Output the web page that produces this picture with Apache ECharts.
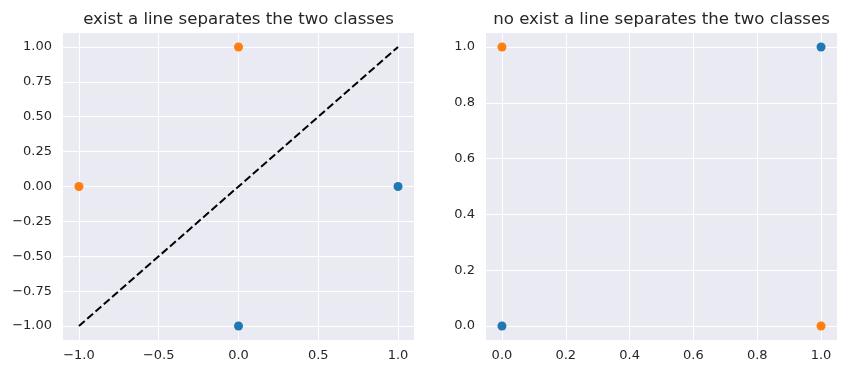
<!DOCTYPE html>
<html>
<head>
<meta charset="utf-8">
<script src="https://cdn.jsdelivr.net/npm/echarts@6/dist/echarts.min.js"></script>
<style>html,body{margin:0;padding:0;background:#fff}#c{width:847px;height:374px}</style>
</head>
<body>
<div id="c"></div>
<script>
const titles = ["exist a line separates the two classes", "no exist a line separates the two classes"];
const leftBlue = [[1, 0], [0, -1]];
const leftOrange = [[0, 1], [-1, 0]];
const leftLine = [[-1, -1], [1, 1]];
const rightBlue = [[0, 0], [1, 1]];
const rightOrange = [[0, 1], [1, 0]];
const leftXTicks = [-1.0, -0.5, 0.0, 0.5, 1.0];
const leftYTicks = [-1.0, -0.75, -0.5, -0.25, 0.0, 0.25, 0.5, 0.75, 1.0];
const rightXTicks = [0.0, 0.2, 0.4, 0.6, 0.8, 1.0];
const rightYTicks = [0.0, 0.2, 0.4, 0.6, 0.8, 1.0];

const FONT = "DejaVu Sans";
const TXT = "#262626";
function fmt(d) { return v => { const s = Math.abs(v).toFixed(d); return (v < -1e-9 ? "\u2212" : "") + s; }; }
function axis(gridIndex, min, max, ticks, dec, isX) {
  return {
    type: "value", gridIndex, min, max,
    axisLine: { show: false },
    axisTick: { show: false, customValues: ticks },
    axisLabel: { customValues: ticks, formatter: fmt(dec), color: TXT, fontFamily: FONT, fontSize: 13, margin: isX ? 9 : 11, showMinLabel: true, showMaxLabel: true },
    splitLine: { show: true, lineStyle: { color: "#ffffff", width: 1 } }
  };
}
const chart = echarts.init(document.getElementById("c"), null, { renderer: "canvas" });
chart.setOption({
  animation: false,
  backgroundColor: "#ffffff",
  title: [
    { text: titles[0], left: 233.5, textAlign: "center", top: 6, textStyle: { fontFamily: FONT, fontSize: 16.6, fontWeight: "normal", color: TXT } },
    { text: titles[1], left: 656.5, textAlign: "center", top: 6, textStyle: { fontFamily: FONT, fontSize: 16.6, fontWeight: "normal", color: TXT } }
  ],
  grid: [
    { left: 63, width: 351, top: 33, height: 307, backgroundColor: "#EAEAF2", show: true, borderWidth: 0 },
    { left: 486, width: 351, top: 33, height: 307, backgroundColor: "#EAEAF2", show: true, borderWidth: 0 }
  ],
  xAxis: [axis(0, -1.1, 1.1, leftXTicks, 1, true), axis(1, -0.05, 1.05, rightXTicks, 1, true)],
  yAxis: [axis(0, -1.1, 1.1, leftYTicks, 2, false), axis(1, -0.05, 1.05, rightYTicks, 1, false)],
  series: [
    { type: "scatter", xAxisIndex: 0, yAxisIndex: 0, data: leftBlue, symbolSize: 9, itemStyle: { color: "#1f77b4", opacity: 1 } },
    { type: "scatter", xAxisIndex: 0, yAxisIndex: 0, data: leftOrange, symbolSize: 9, itemStyle: { color: "#ff7f0e", opacity: 1 } },
    { type: "line", xAxisIndex: 0, yAxisIndex: 0, data: leftLine, symbol: "none", lineStyle: { color: "#000000", width: 2, type: [7.7, 3.3] }, z: 3 },
    { type: "scatter", xAxisIndex: 1, yAxisIndex: 1, data: rightBlue, symbolSize: 9, itemStyle: { color: "#1f77b4", opacity: 1 } },
    { type: "scatter", xAxisIndex: 1, yAxisIndex: 1, data: rightOrange, symbolSize: 9, itemStyle: { color: "#ff7f0e", opacity: 1 } }
  ]
});
</script>
</body>
</html>
